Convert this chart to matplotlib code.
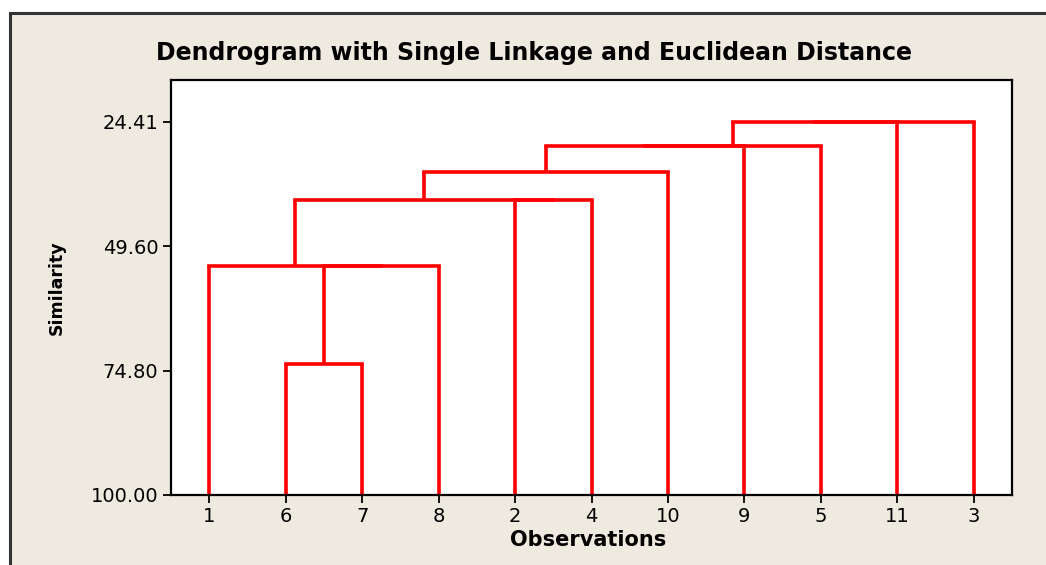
import matplotlib
matplotlib.use("Agg")
import matplotlib.pyplot as plt
from matplotlib.patches import Rectangle

# ---- data ----
leaf_labels = ['1', '6', '7', '8', '2', '4', '10', '9', '5', '11', '3']
# merges: pairs of cluster ids (0..10 = leaves in display order, 11+ = merged clusters)
merge_pairs = [(1, 2), (11, 3), (0, 12), (4, 5), (13, 14), (15, 6),
               (16, 7), (17, 8), (18, 9), (19, 10)]
merge_similarity = [73.45, 53.59, 53.59, 40.22, 40.22, 34.54,
                    29.27, 29.27, 24.41, 24.41]
y_ticks = [24.41, 49.60, 74.80, 100.00]

W, H = 1046, 565
fig = plt.figure(figsize=(W / 100, H / 100), dpi=100, facecolor='white')
bg = Rectangle((10 / W, -0.1), 1.2, 1 - 13 / H + 0.1, transform=fig.transFigure,
               facecolor='#EEEAE0', edgecolor='#333333', linewidth=2.2, zorder=-10)
fig.patches.append(bg)

ax = fig.add_axes([171 / W, 1 - 495 / H, (1012 - 171) / W, (495 - 80) / H])
ax.set_zorder(5)
ax.set_facecolor('white')

n = len(leaf_labels)
xs = {i: float(i) for i in range(n)}
ys = {i: 100.0 for i in range(n)}
red = '#FF0000'
lw = 2.6
for k, ((a, b), s) in enumerate(zip(merge_pairs, merge_similarity)):
    cid = n + k
    ax.plot([xs[a], xs[a]], [ys[a], s], color=red, lw=lw, solid_capstyle='butt')
    ax.plot([xs[b], xs[b]], [ys[b], s], color=red, lw=lw, solid_capstyle='butt')
    ax.plot([xs[a], xs[b]], [s, s], color=red, lw=lw, solid_capstyle='projecting')
    xs[cid] = (xs[a] + xs[b]) / 2
    ys[cid] = s

ax.set_xlim(-0.5, n - 0.5)
ax.set_ylim(100, 15.9)
ax.set_xticks(range(n))
ax.set_xticklabels(leaf_labels)
ax.set_yticks(y_ticks)
ax.set_yticklabels([f'{v:.2f}' for v in y_ticks])
ax.tick_params(axis='both', direction='out', labelsize=14, colors='black',
               width=1.3, length=6, pad=3)
for sp in ax.spines.values():
    sp.set_linewidth(1.6)
    sp.set_color('black')

fig.text(534 / W, 1 - 53 / H, 'Dendrogram with Single Linkage and Euclidean Distance',
         ha='center', va='center', fontsize=17, fontweight='bold', family='DejaVu Sans')
fig.text(588 / W, 1 - 540 / H, 'Observations', ha='center', va='center',
         fontsize=15, fontweight='bold', family='DejaVu Sans')
fig.text(57 / W, 1 - 288 / H, 'Similarity', ha='center', va='center', rotation=90,
         fontsize=12.5, fontweight='bold', family='DejaVu Sans')

fig.savefig('out.png', dpi=100, facecolor=fig.get_facecolor())
